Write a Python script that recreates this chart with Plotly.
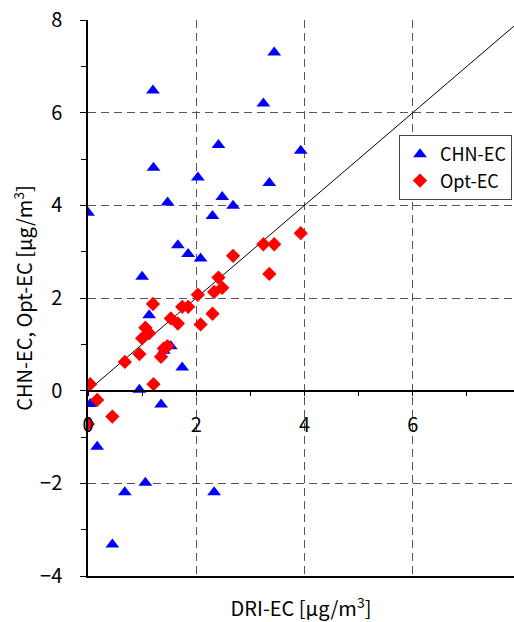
import plotly.graph_objects as go

# ---- data ----
dri_ec = [0.00, 0.04, 0.17, 0.45, 0.68, 0.95, 1.00, 1.06, 1.13, 1.20,
          1.21, 1.35, 1.40, 1.47, 1.53, 1.66, 1.74, 1.85, 2.03, 2.08,
          2.30, 2.33, 2.41, 2.48, 2.68, 3.24, 3.35, 3.44, 3.93]
chn_ec = [3.84, -0.29, -1.21, -3.32, -2.19, 0.02, 2.46, -1.99, 1.63, 6.48,
          4.81, -0.30, 0.86, 4.06, 0.96, 3.14, 0.50, 2.95, 4.60, 2.85,
          3.77, -2.19, 5.30, 4.18, 3.99, 6.20, 4.48, 7.30, 5.18]
opt_ec = [-0.72, 0.14, -0.20, -0.56, 0.62, 0.79, 1.13, 1.36, 1.24, 1.87,
          0.14, 0.73, 0.91, 0.96, 1.56, 1.45, 1.81, 1.81, 2.07, 1.43,
          1.66, 2.13, 2.44, 2.22, 2.91, 3.16, 2.52, 3.16, 3.40]
one_to_one = [0, 8]

x_ticks = [0, 2, 4, 6]
y_ticks = [-4, -2, 0, 2, 4, 6, 8]
x_range = [0, 7.87]
y_range = [-4, 8]

FONT = "Noto Sans CJK JP, sans-serif"
GRID = "#555555"
DASH = "8px,5px"

fig = go.Figure()
fig.add_trace(go.Scatter(x=one_to_one, y=one_to_one, mode="lines",
                         line=dict(color="black", width=1), showlegend=False,
                         hoverinfo="skip"))
fig.add_trace(go.Scatter(x=dri_ec, y=chn_ec, mode="markers", name="CHN-EC",
                         marker=dict(symbol="triangle-up", size=12, color="#0000FF",
                                     line=dict(width=0))))
fig.add_trace(go.Scatter(x=dri_ec, y=opt_ec, mode="markers", name="Opt-EC",
                         marker=dict(symbol="diamond", size=11, color="#FF0000",
                                     line=dict(width=0))))
# empty trace so that the bottom frame axis (xaxis2) is drawn
fig.add_trace(go.Scatter(x=[None], y=[None], xaxis="x2", yaxis="y",
                         mode="markers", showlegend=False, hoverinfo="skip"))

fig.update_layout(
    width=514, height=622,
    margin=dict(l=88, r=0, t=20, b=46, autoexpand=False),
    paper_bgcolor="white", plot_bgcolor="white",
    font=dict(family=FONT, size=20, color="black"),
    xaxis=dict(
        range=x_range, anchor="free", position=1/3, automargin=False,
        tickmode="array", tickvals=x_ticks, ticktext=[str(v) for v in x_ticks],
        ticks="outside", ticklen=5, tickcolor="black", ticklabelstandoff=12,
        minor=dict(dtick=1, ticks="outside", ticklen=5, tickcolor="black", showgrid=False),
        showline=True, linecolor="black", linewidth=1.5,
        showgrid=True, gridcolor=GRID, griddash=DASH, gridwidth=1,
        zeroline=False, tickfont=dict(size=20),
    ),
    xaxis2=dict(
        range=x_range, overlaying="x", anchor="y", side="bottom", automargin=False,
        showline=True, linecolor="black", linewidth=1.5,
        showticklabels=False, ticks="", showgrid=False, zeroline=False,
        title=dict(text="DRI-EC [μg/m<sup>3</sup>]", font=dict(size=20), standoff=29),
    ),
    yaxis=dict(
        range=y_range, tickmode="array", tickvals=y_ticks, automargin=False,
        ticks="outside", ticklen=6, tickcolor="black", ticklabelstandoff=14,
        minor=dict(dtick=1, ticks="outside", ticklen=5, tickcolor="black", showgrid=False),
        showline=True, linecolor="black", linewidth=1.5,
        showgrid=True, gridcolor=GRID, griddash=DASH, gridwidth=1,
        zeroline=True, zerolinecolor="black", zerolinewidth=1.5,
        tickfont=dict(size=20),
        title=dict(text="CHN-EC, Opt-EC [μg/m<sup>3</sup>]", font=dict(size=20), standoff=2),
    ),
    legend=dict(x=(399-88)/426, y=(576-135)/556, xanchor="left", yanchor="top",
                bgcolor="white", bordercolor="#444444", borderwidth=1,
                font=dict(size=18), tracegroupgap=0, itemsizing="trace",
                itemwidth=30),
    showlegend=True,
)

fig.write_html("out.html")
